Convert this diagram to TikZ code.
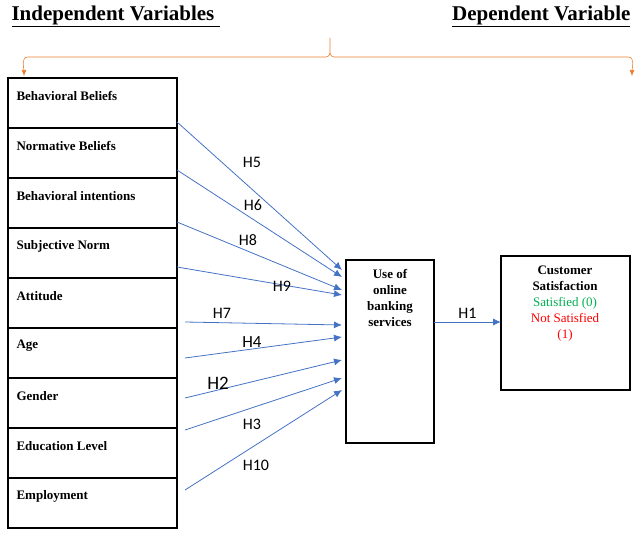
\documentclass[tikz,border=0pt]{standalone}
\usepackage{fontspec}
\setmainfont{Liberation Serif}
\newfontfamily\labelfont{Carlito}
\usetikzlibrary{arrows.meta}
\definecolor{hblue}{RGB}{68,114,196}
\definecolor{borange}{RGB}{237,125,49}
\definecolor{sgreen}{RGB}{0,176,80}
\tikzset{
  varbox/.style={draw=black, line width=1.3pt},
  varlabel/.style={anchor=west, font=\bfseries\fontsize{13}{15}\selectfont},
  hyp/.style={draw=hblue, line width=0.8pt, -{Latex[length=8pt,width=7pt]}},
  hlabel/.style={font=\labelfont\fontsize{16}{18}\selectfont},
  heading/.style={font=\fontsize{21}{24}\selectfont},
}
\begin{document}
\begin{tikzpicture}[x=1pt, y=-1pt]
  \useasboundingbox (0,0) rectangle (642,537);
  % headings
  \node[anchor=west, heading] (indep) at (8,16) {\underline{\textbf{Independent Variables}\ }};
  \node[anchor=east, heading] (dep) at (634,16) {\underline{\textbf{Dependent Variable}}};
  % brace
  \coordinate (bt) at (330,38);
  \coordinate (bl) at (24,76);
  \coordinate (br) at (632,76);
  \draw[borange, line width=0.6pt, -{Latex[length=6pt,width=5pt]}]
    (bt) -- (330,53) to[out=-90,in=0] (326,57) -- (28,57) to[out=180,in=90] (bl);
  \draw[borange, line width=0.6pt, -{Latex[length=6pt,width=5pt]}]
    (330,53) to[out=-90,in=180] (334,57) -- (628,57) to[out=0,in=90] (br);
  % independent variables
  \foreach \lbl [count=\i] in {Behavioral Beliefs, Normative Beliefs, Behavioral intentions,
      Subjective Norm, Attitude, Age, Gender, Education Level, Employment} {
    \draw[varbox] (8,{78+(\i-1)*50}) rectangle (177,{78+\i*50});
    \node[varlabel] (v\i) at (13,{96+(\i-1)*50}) {\lbl};
  }
  % dependent boxes
  \draw[varbox] (346,260) rectangle (434,443);
  \node[align=center, font=\bfseries\fontsize{13}{16}\selectfont, anchor=north] (use) at (390,266)
    {Use of\\online\\banking\\services};
  \draw[varbox] (501,256) rectangle (630,390);
  \node[align=center, font=\fontsize{13}{16}\selectfont, anchor=north] (sat) at (565,262)
    {\textbf{Customer}\\\textbf{Satisfaction}\\\textcolor{sgreen}{Satisfied (0)}\\\textcolor{red}{Not Satisfied}\\\textcolor{red}{(1)}};
  \coordinate (useR) at (434,322);
  \coordinate (satL) at (501,322);
  \draw[hyp] (useR) -- (satL) node[midway, above, hlabel] {H1};
  % hypotheses
  \foreach \sx/\sy/\ey/\h/\lx/\ly/\fs in {177/122/270/H5/252/162/16, 177/170/277/H6/253/205/16,
      177/222/290/H8/248/240/16, 177/267/295/H9/282/286/16, 185/322/325/H7/222/313/16,
      185/358/337/H4/252/342/17, 185/398/360/H2/218/383/19, 185/430/378/H3/252/424/16,
      185/490/390/H10/256/465/16} {
    \coordinate (s\h) at (\sx,\sy);
    \coordinate (e\h) at (342,\ey);
    \draw[hyp] (s\h) -- (e\h);
    \node[hlabel, font=\labelfont\fontsize{\fs}{\fs}\selectfont] (l\h) at (\lx,\ly) {\h};
  }
\end{tikzpicture}
\end{document}
